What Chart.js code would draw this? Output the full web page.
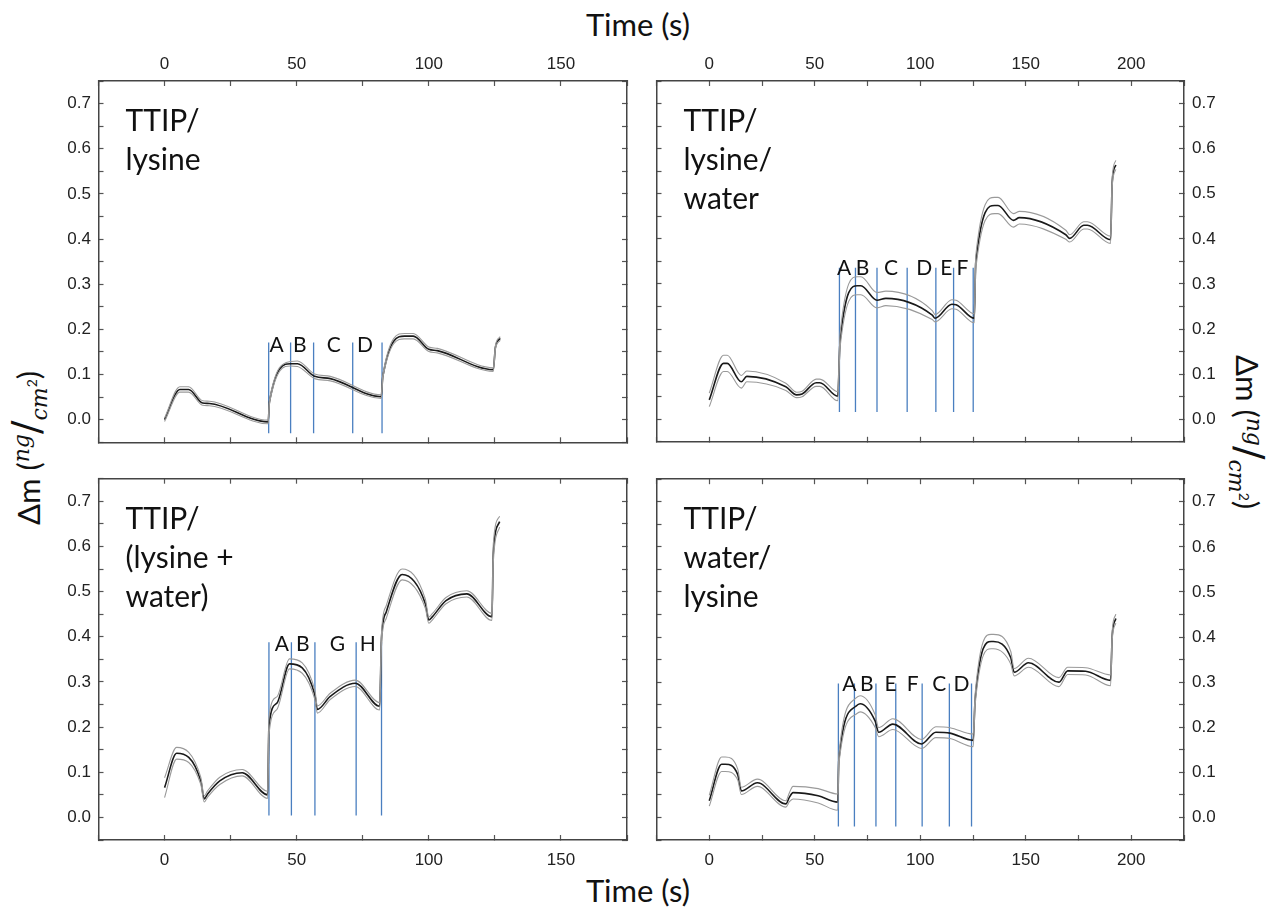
<!DOCTYPE html>
<html>
<head>
<meta charset="utf-8">
<script src="https://cdn.jsdelivr.net/npm/chart.js@4.4.1/dist/chart.umd.min.js"></script>
<style>
  html, body { margin: 0; padding: 0; background: #fff; }
  #page { position: relative; width: 1275px; height: 910px; overflow: hidden; font-family: Lato, sans-serif; color: #111; }
  canvas { position: absolute; }
  .xtitle { position: absolute; font-size: 31px; white-space: nowrap; transform: translate(-50%, -50%); }
  .ytitle { position: absolute; font-size: 31px; white-space: nowrap; }
  .ytitle i { font-family: "DejaVu Serif", serif; font-size: 22px; }
  .ytitle .sl { font-size: 40px; font-family: "DejaVu Serif", serif; }
</style>
</head>
<body>
<div id="page">
  <div class="xtitle" style="left:638px; top:24px;">Time (s)</div>
  <div class="xtitle" style="left:638px; top:890px;">Time (s)</div>
  <div class="ytitle" style="left:28px; top:448px; transform: translate(-50%, -50%) rotate(-90deg);">Δm (<sup><i>ng</i></sup><span class="sl">/</span><sub><i>cm</i><sup style="font-size:14px">2</sup></sub>)</div>
  <div class="ytitle" style="left:1248px; top:432px; transform: translate(-50%, -50%) rotate(90deg);">Δm (<sup><i>ng</i></sup><span class="sl">/</span><sub><i>cm</i><sup style="font-size:14px">2</sup></sub>)</div>
  <canvas id="c-tl" width="645" height="425" style="left:0px; top:40px;"></canvas>
  <canvas id="c-tr" width="600" height="425" style="left:640px; top:40px;"></canvas>
  <canvas id="c-bl" width="645" height="430" style="left:0px; top:456px;"></canvas>
  <canvas id="c-br" width="600" height="430" style="left:640px; top:456px;"></canvas>
</div>
<script>
// Data: time (s), mean mass gain and band half-width (ng/cm2)

// TTIP / lysine
const tlTime = [0, 5.8, 9.1, 14.4, 17, 39.2, 39.7, 47.7, 50.3, 56.8, 62.7, 82, 82.6, 90.8, 94.1, 100, 103.2, 124.4, 125.2, 127];
const tlMean = [0.0, 0.067, 0.067, 0.037, 0.036, -0.005, 0.04, 0.124, 0.124, 0.096, 0.091, 0.051, 0.096, 0.185, 0.185, 0.156, 0.153, 0.111, 0.16, 0.18];
const tlSd = [0.004, 0.006, 0.006, 0.005, 0.005, 0.004, 0.004, 0.005, 0.006, 0.005, 0.005, 0.004, 0.004, 0.006, 0.006, 0.005, 0.005, 0.004, 0.004, 0.004];
const tlMarks = [39.4, 47.7, 56.4, 71.2, 82.3];
const tlLetters = ['A', 'B', 'C', 'D'];
const tlLetterX = [42.4, 51.2, 64, 75.8];

// TTIP / lysine / water
const trTime = [0, 6.8, 8.5, 15.2, 17.8, 36.3, 41.4, 44, 50.7, 52.4, 60.9, 62, 70.2, 71.9, 79.5, 83.7, 105.7, 107, 115, 117, 125.6, 126.3, 135.2, 136.9, 144.2, 147, 169, 170.8, 177.5, 179.2, 190.2, 191, 192.7];
const trMean = [0.043, 0.124, 0.124, 0.083, 0.095, 0.072, 0.054, 0.056, 0.081, 0.081, 0.051, 0.174, 0.296, 0.296, 0.264, 0.268, 0.231, 0.224, 0.255, 0.254, 0.224, 0.347, 0.474, 0.474, 0.441, 0.447, 0.409, 0.401, 0.43, 0.43, 0.398, 0.528, 0.564];
const trSd = [0.015, 0.018, 0.018, 0.014, 0.012, 0.008, 0.006, 0.006, 0.008, 0.008, 0.01, 0.015, 0.02, 0.02, 0.017, 0.016, 0.01, 0.008, 0.01, 0.01, 0.01, 0.015, 0.018, 0.018, 0.015, 0.014, 0.01, 0.008, 0.008, 0.008, 0.008, 0.01, 0.01];
const trMarks = [61.7, 69.3, 79.5, 93.8, 107.4, 115.8, 125.1];
const trLetters = ['A', 'B', 'C', 'D', 'E', 'F'];
const trLetterX = [63.9, 72.7, 86.2, 101.9, 112.4, 120];

// TTIP / (lysine + water)
const blTime = [0, 4.6, 13.7, 15, 16.3, 20.9, 29.4, 39, 39.5, 42.5, 47.3, 56.9, 57.8, 62.7, 72.2, 81.4, 82.1, 83.9, 89.9, 98.7, 100, 101.3, 106.5, 114.4, 123.9, 124.4, 126.8];
const blMean = [0.066, 0.142, 0.081, 0.041, 0.052, 0.081, 0.099, 0.05, 0.203, 0.253, 0.34, 0.271, 0.239, 0.268, 0.297, 0.246, 0.397, 0.455, 0.538, 0.473, 0.437, 0.444, 0.48, 0.495, 0.444, 0.585, 0.655];
const blSd = [0.022, 0.013, 0.008, 0.007, 0.007, 0.008, 0.007, 0.008, 0.02, 0.014, 0.011, 0.01, 0.008, 0.007, 0.007, 0.008, 0.012, 0.014, 0.012, 0.01, 0.007, 0.007, 0.007, 0.007, 0.008, 0.02, 0.012];
const blMarks = [39.5, 48, 56.9, 72.5, 82.1];
const blLetters = ['A', 'B', 'G', 'H'];
const blLetterX = [44.4, 52.3, 65.4, 76.9];

// TTIP / water / lysine
const brTime = [0, 5.9, 7.6, 13.5, 15.2, 22.8, 24.5, 36.3, 38, 39.7, 51.6, 60.9, 61.4, 69.3, 71.5, 78.6, 80.3, 87, 100.6, 107.4, 114.1, 125.1, 126, 133.6, 134.7, 142.9, 144.5, 151.3, 165.7, 169.9, 178.4, 190.2, 191, 192.7];
const brMean = [0.037, 0.118, 0.118, 0.095, 0.059, 0.077, 0.075, 0.030, 0.045, 0.055, 0.048, 0.034, 0.127, 0.246, 0.252, 0.214, 0.189, 0.207, 0.163, 0.189, 0.187, 0.171, 0.261, 0.39, 0.39, 0.354, 0.322, 0.343, 0.3, 0.325, 0.324, 0.304, 0.405, 0.441];
const brSd = [0.012, 0.016, 0.016, 0.012, 0.008, 0.008, 0.008, 0.007, 0.01, 0.014, 0.016, 0.018, 0.01, 0.018, 0.018, 0.014, 0.01, 0.012, 0.01, 0.012, 0.012, 0.014, 0.012, 0.016, 0.016, 0.014, 0.008, 0.01, 0.01, 0.008, 0.008, 0.012, 0.01, 0.01];
const brMarks = [61.2, 68.8, 79, 88.4, 100.9, 113.8, 124.3];
const brLetters = ['A', 'B', 'E', 'F', 'C', 'D'];
const brLetterX = [66.4, 74.7, 85.9, 96.4, 109, 119.5];

// Axis ticks
const yMin = -0.05, yMax = 0.75, yStep = 0.05;
const leftXRange = [-25, 175];
const rightXRange = [-25, 225];
const xStep = 25;

const BLUE = '#4a7fc0';
const TICK_FONT = { family: '"Liberation Sans", Arial, sans-serif', size: 17 };

// Panel labels and letters drawn inside the plot
const panelText = {
    id: 'panelText',
    afterDatasetsDraw(chart, args, opts) {
        const { ctx, chartArea, scales } = chart;
        ctx.save();
        ctx.fillStyle = '#111';
        ctx.font = '30px Lato';
        ctx.textAlign = 'left';
        ctx.textBaseline = 'alphabetic';
        opts.title.forEach((line, i) => ctx.fillText(line, chartArea.left + 27, chartArea.top + 50 + i * 39));
        ctx.font = '21px Lato';
        ctx.textAlign = 'center';
        ctx.textBaseline = 'middle';
        opts.letters.forEach((l, i) => {
            ctx.fillText(l, scales.x.getPixelForValue(opts.letterX[i]), scales.y.getPixelForValue(opts.letterY));
        });
        ctx.restore();
    }
};

function axis(pos, range, step, show, size, pad, fmt) {
    return {
        type: 'linear', position: pos, min: range[0], max: range[1],
        grid: { drawOnChartArea: false, color: '#555', tickLength: -5, tickWidth: 1.2 },
        border: { display: true, color: '#444', width: 1.5 },
        ticks: { stepSize: step, display: show, autoSkip: false, maxRotation: 0, color: '#222', font: TICK_FONT, padding: pad, callback: fmt },
        afterFit: s => { if (s.isHorizontal()) s.height = size; else s.width = size; }
    };
}

const fmtX = v => (Math.round(v) % 50 === 0 ? String(Math.round(v)) : '');
const fmtY = v => (Math.round(v * 20) % 2 === 0 ? (Math.round(v * 10) / 10).toFixed(1) : '');

function makePanel(id, p) {
    const band = sign => p.time.map((t, i) => ({ x: t, y: p.mean[i] + sign * p.sd[i] }));
    const datasets = [
        { data: band(1), borderColor: '#9a9a9a', borderWidth: 1.1 },
        { data: band(-1), borderColor: '#9a9a9a', borderWidth: 1.1 },
        { data: p.time.map((t, i) => ({ x: t, y: p.mean[i] })), borderColor: '#1a1a1a', borderWidth: 1.6 }
    ];
    p.marks.forEach(m => datasets.push({
        data: [{ x: m, y: p.markBottom }, { x: m, y: p.markTop }],
        borderColor: BLUE, borderWidth: 1.3, cubicInterpolationMode: 'default', tension: 0
    }));
    return new Chart(document.getElementById(id), {
        type: 'line',
        data: { datasets },
        options: {
            responsive: false,
            animation: false,
            parsing: false,
            layout: { padding: 0 },
            elements: { point: { radius: 0 }, line: { cubicInterpolationMode: 'monotone', fill: false } },
            plugins: {
                legend: { display: false }, tooltip: { enabled: false },
                panelText: { title: p.title, letters: p.letters, letterX: p.letterX, letterY: p.letterY }
            },
            scales: {
                x: axis('bottom', p.xRange, xStep, p.bottomLabels, p.box.bottom, 15, fmtX),
                x2: axis('top', p.xRange, xStep, !p.bottomLabels, p.box.top, 11, fmtX),
                y: axis('left', [yMin, yMax], yStep, p.leftLabels, p.box.left, 12.5, fmtY),
                y2: axis('right', [yMin, yMax], yStep, !p.leftLabels, p.box.right, 13, fmtY)
            }
        },
        plugins: [panelText]
    });
}

makePanel('c-tl', {
    time: tlTime, mean: tlMean, sd: tlSd, marks: tlMarks, markTop: 0.171, markBottom: -0.03,
    letters: tlLetters, letterX: tlLetterX, letterY: 0.166,
    title: ['TTIP/', 'lysine'], xRange: leftXRange, bottomLabels: false, leftLabels: true,
    box: { left: 98.5, top: 41, right: 18, bottom: 15 }
});
makePanel('c-tr', {
    time: trTime, mean: trMean, sd: trSd, marks: trMarks, markTop: 0.336, markBottom: 0.016,
    letters: trLetters, letterX: trLetterX, letterY: 0.334,
    title: ['TTIP/', 'lysine/', 'water'], xRange: rightXRange, bottomLabels: false, leftLabels: false,
    box: { left: 16.5, top: 41, right: 56, bottom: 15 }
});
makePanel('c-bl', {
    time: blTime, mean: blMean, sd: blSd, marks: blMarks, markTop: 0.388, markBottom: 0.004,
    letters: blLetters, letterX: blLetterX, letterY: 0.384,
    title: ['TTIP/', '(lysine +', 'water)'], xRange: leftXRange, bottomLabels: true, leftLabels: true,
    box: { left: 98.5, top: 15, right: 18, bottom: 46 }
});
makePanel('c-br', {
    time: brTime, mean: brMean, sd: brSd, marks: brMarks, markTop: 0.297, markBottom: -0.02,
    letters: brLetters, letterX: brLetterX, letterY: 0.295,
    title: ['TTIP/', 'water/', 'lysine'], xRange: rightXRange, bottomLabels: true, leftLabels: false,
    box: { left: 16.5, top: 15, right: 56, bottom: 46 }
});
</script>
</body>
</html>
